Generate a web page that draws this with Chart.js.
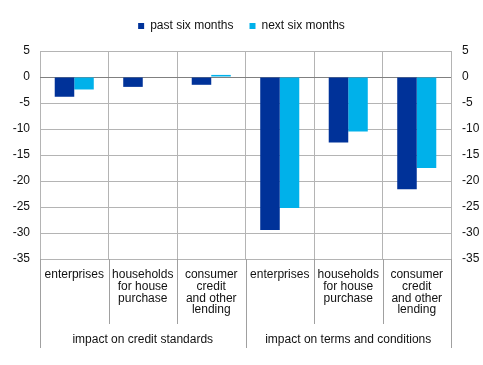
<!DOCTYPE html>
<html>
<head>
<meta charset="utf-8">
<script src="https://cdn.jsdelivr.net/npm/chart.js@4/dist/chart.umd.min.js"></script>
<style>
  html, body { margin: 0; padding: 0; background: #fff; }
  #wrap { width: 483px; height: 365px; position: relative; }
</style>
</head>
<body>
<div id="wrap"><canvas id="chart"></canvas></div>
<script>
  // chart data
  const categories = [
    ["enterprises"],
    ["households", "for house", "purchase"],
    ["consumer", "credit", "and other", "lending"],
    ["enterprises"],
    ["households", "for house", "purchase"],
    ["consumer", "credit", "and other", "lending"]
  ];
  const groups = ["impact on credit standards", "impact on terms and conditions"];
  const groupSize = 3;
  const pastSixMonths = [-3.8, -1.9, -1.5, -29.4, -12.6, -21.6];
  const nextSixMonths = [-2.4, 0, 0.4, -25.2, -10.5, -17.5];
  const yMin = -35, yMax = 5, yStep = 5;

  const FONT = "'Liberation Sans', Arial, sans-serif";
  const darkBlue = "#003299";
  const lightBlue = "#00b1ea";

  // extra room under the legend
  const legendGap = {
    id: "legendGap",
    beforeInit(chart) {
      const fit = chart.legend.fit;
      chart.legend.fit = function () {
        fit.call(this);
        this.height += 9;
      };
    }
  };

  // separators below the axis + group labels
  const categoryFrame = {
    id: "categoryFrame",
    afterDraw(chart) {
      const x = chart.scales.x;
      const area = chart.chartArea;
      const ctx = chart.ctx;
      const n = categories.length;
      const bounds = [];
      for (let i = 0; i <= n; i++) {
        if (i === 0) bounds.push(area.left);
        else if (i === n) bounds.push(area.right);
        else bounds.push((x.getPixelForValue(i - 1) + x.getPixelForValue(i)) / 2);
      }
      ctx.save();
      ctx.strokeStyle = "#a0a0a0";
      ctx.lineWidth = 1;
      bounds.forEach((bx, i) => {
        const long = i % groupSize === 0;
        const px = Math.round(bx) + 0.5;
        ctx.beginPath();
        ctx.moveTo(px, area.bottom);
        ctx.lineTo(px, area.bottom + (long ? 89 : 65));
        ctx.stroke();
      });
      ctx.fillStyle = "#111";
      ctx.font = "12px " + FONT;
      ctx.textAlign = "center";
      ctx.textBaseline = "middle";
      groups.forEach((g, gi) => {
        const cx = (bounds[gi * groupSize] + bounds[(gi + 1) * groupSize]) / 2;
        ctx.fillText(g, cx, area.bottom + 81);
      });
      ctx.restore();
    }
  };

  const tickFont = { family: FONT, size: 12, lineHeight: 0.98 };

  new Chart(document.getElementById("chart"), {
    type: "bar",
    data: {
      labels: categories,
      datasets: [
        { label: "past six months", data: pastSixMonths, backgroundColor: darkBlue,
          categoryPercentage: 0.57, barPercentage: 1.0, yAxisID: "y" },
        { label: "next six months", data: nextSixMonths, backgroundColor: lightBlue,
          categoryPercentage: 0.57, barPercentage: 1.0, yAxisID: "y" }
      ]
    },
    options: {
      responsive: true,
      maintainAspectRatio: false,
      animation: false,
      layout: { padding: { top: 4, right: 0, left: 0, bottom: 0 } },
      plugins: {
        legend: {
          position: "top",
          labels: {
            boxWidth: 6,
            boxHeight: 6,
            padding: 16,
            color: "#111",
            font: { family: FONT, size: 12 }
          }
        },
        tooltip: { enabled: false }
      },
      scales: {
        x: {
          offset: true,
          grid: { color: "#b4b4b4", drawTicks: false, offset: true },
          border: { display: false },
          ticks: {
            color: "#111",
            font: tickFont,
            padding: 10,
            maxRotation: 0,
            autoSkip: false
          },
          afterFit(s) { s.height = 106; }
        },
        y: {
          position: "left",
          min: yMin,
          max: yMax,
          grid: {
            color: (c) => c.tick && c.tick.value === 0 ? "#808080" : "#b4b4b4",
            drawTicks: false
          },
          border: { display: false },
          ticks: {
            stepSize: yStep,
            color: "#111",
            font: { family: FONT, size: 12 },
            padding: 10
          },
          afterFit(s) { s.width = 40; }
        },
        y2: {
          position: "right",
          min: yMin,
          max: yMax,
          grid: { drawOnChartArea: false, drawTicks: false },
          border: { display: false },
          ticks: {
            stepSize: yStep,
            color: "#111",
            font: { family: FONT, size: 12 },
            padding: 11
          },
          afterFit(s) { s.width = 32; }
        }
      }
    },
    plugins: [legendGap, categoryFrame]
  });
</script>
</body>
</html>
